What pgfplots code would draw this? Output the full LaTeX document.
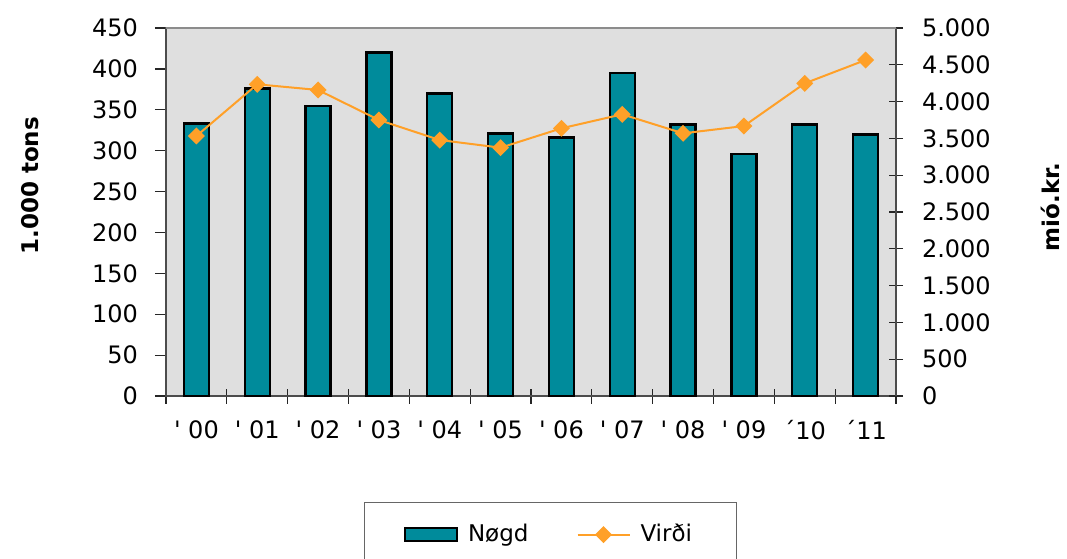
\documentclass[border=0pt]{standalone}
\usepackage{fontspec}
\setmainfont{DejaVu Sans}
\usepackage{pgfplots}
\pgfplotsset{compat=1.18}
\definecolor{barc}{RGB}{0,139,155}
\definecolor{linec}{RGB}{255,160,40}
\definecolor{bgc}{RGB}{223,223,223}
\pgfplotsset{
  linelegend/.style={legend image code/.code={\draw[##1,mark repeat=2,mark phase=2] plot coordinates {(0pt,0pt) (13pt,0pt) (26pt,0pt)};}},
  barlegend/.style={legend image code/.code={\draw[fill=barc,draw=black,line width=0.9pt] (6pt,-3.2pt) rectangle (32pt,3.2pt);}},
}
\begin{document}
\begin{tikzpicture}
\pgfplotsset{
  every axis/.append style={
    scale only axis, width=365pt, height=184pt,
    xmin=-0.5, xmax=11.5,
    /pgf/number format/assume math mode=true,
    tick label style={font=\fontsize{12}{14}\selectfont},
    axis line style={draw=black!70, line width=0.6pt},
    tick style={draw=black!85, line width=0.6pt},
    scaled y ticks=false,
  }
}
\begin{axis}[
  axis background/.style={fill=bgc},
  ymin=0, ymax=450, ytick={0,50,...,450}, ytick pos=left,
  ytick align=outside, major tick length=5.5pt,
  yticklabel style={xshift=-5pt},
  xtick={0,...,11},
  xticklabels={\textquotesingle\ 00,\textquotesingle\ 01,\textquotesingle\ 02,\textquotesingle\ 03,\textquotesingle\ 04,\textquotesingle\ 05,\textquotesingle\ 06,\textquotesingle\ 07,\textquotesingle\ 08,\textquotesingle\ 09,´10,´11},
  major x tick style={draw=none},
  minor xtick={-0.5,0.5,...,11.5}, minor tick length=7.5pt,
  xtick align=center,
  xtick pos=bottom,
  xticklabel style={yshift=-6pt},
  ylabel={1.000 tons},
  ylabel style={at={(axis description cs:-0.186,0.571)}, anchor=center, font=\bfseries\fontsize{11.5}{14}\selectfont},
]
\addplot[ybar, bar width=12.5pt, fill=barc, draw=black, line width=1.2pt] coordinates {
(0,333) (1,376) (2,355) (3,420) (4,370) (5,321) (6,316) (7,395) (8,332) (9,296) (10,332) (11,320)
};
\end{axis}
\begin{axis}[
  hide x axis,
  ymin=0, ymax=5000, ytick={0,500,...,5000}, ytick pos=right, yticklabel pos=right,
  ytick align=center, major tick length=7pt,
  /pgf/number format/.cd, 1000 sep={.}, /pgfplots/.cd,
  yticklabel style={xshift=6pt},
  ylabel={mió.kr.},
  ylabel style={at={(axis description cs:1.212,0.514)}, anchor=center, font=\bfseries\fontsize{11.5}{14}\selectfont},
  legend columns=2,
  legend style={at={(axis description cs:0.271,-0.288)}, anchor=north west, draw=black!60, inner xsep=20pt, inner ysep=9pt, font=\fontsize{11.5}{14}\selectfont,
    /tikz/every odd column/.append style={column sep=3pt},
    /tikz/every even column/.append style={column sep=22pt}},
]
\addlegendimage{barlegend}
\addlegendentry{Nøgd}
\addplot[color=linec, line width=1pt, mark=square*, mark size=2.5pt, mark options={rotate=45, fill=linec, draw=linec}, linelegend] coordinates {
(0,3533) (1,4235) (2,4158) (3,3750) (4,3478) (5,3374) (6,3637) (7,3827) (8,3569) (9,3668) (10,4248) (11,4565)
};
\addlegendentry{Virði}
\end{axis}
\draw[black!45, line width=0.6pt] (0pt,184pt) -- (365pt,184pt);
\pgfresetboundingbox
\path[use as bounding box] (-83pt,-81pt) rectangle (450.5pt,198pt);
\end{tikzpicture}
\end{document}
